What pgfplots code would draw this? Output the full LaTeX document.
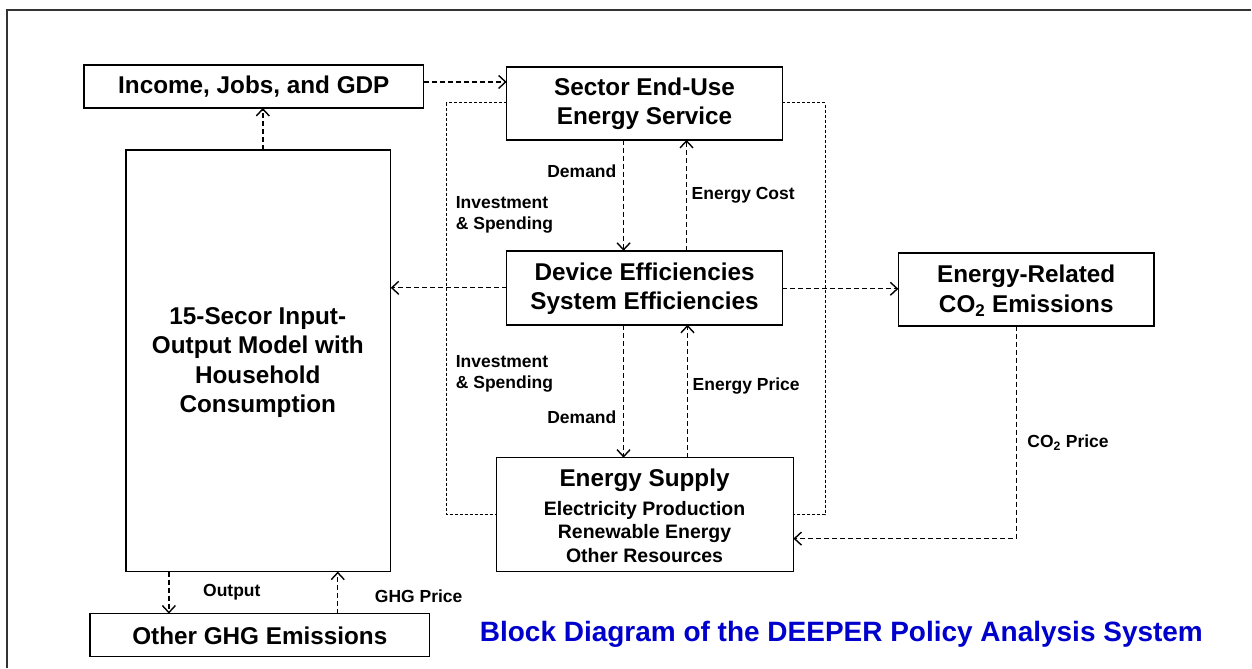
\documentclass[border=0pt]{standalone}
\usepackage{pgfplots}
\pgfplotsset{compat=1.18}
\usepackage{fontspec}
\setmainfont{Liberation Sans}
\usetikzlibrary{arrows.meta}
\definecolor{ttl}{RGB}{0,0,204}
\tikzset{
  box/.style={line width=1.5pt,black},
  darr/.style={black,line width=1.4pt,dash pattern=on 5pt off 3pt,-{Straight Barb[length=7pt,width=13pt]}},
  dotl/.style={black,line width=1.1pt,dash pattern=on 3pt off 2pt},
  big/.style={font=\fontsize{24.3}{29.5}\selectfont\bfseries,align=center,inner sep=0pt},
  lab/.style={font=\fontsize{17.5}{21}\selectfont\bfseries,align=left,inner sep=0pt}}
\begin{document}
\begin{tikzpicture}
\begin{axis}[x=1pt,y=1pt,xmin=0,xmax=1252,ymin=0,ymax=668,y dir=reverse,
  hide axis,clip=false]
\path (axis cs:0,0) rectangle (axis cs:1252,668);
% outer frame
\draw[line width=1.8pt,black!80] (axis cs:7,668) -- (axis cs:7,10) -- (axis cs:1252,10);
% boxes
\draw[box] (axis cs:84,65) rectangle (axis cs:424,108);
\draw[box] (axis cs:507,67) rectangle (axis cs:783,140);
\draw[box] (axis cs:126,150) rectangle (axis cs:391,572);
\draw[box] (axis cs:507,251) rectangle (axis cs:783,325);
\draw[box] (axis cs:899,253) rectangle (axis cs:1155,326);
\draw[box] (axis cs:497,458) rectangle (axis cs:794,572);
\draw[box] (axis cs:90,614) rectangle (axis cs:430,657);
% box texts
\node[big] at (axis cs:254,87) {Income, Jobs, and GDP};
\node[big] at (axis cs:645,104) {Sector End-Use\\Energy Service};
\node[big] at (axis cs:645,289) {Device Efficiencies\\System Efficiencies};
\node[big] at (axis cs:1027,291) {Energy-Related\\CO\textsubscript{2} Emissions};
\node[big] at (axis cs:258,363) {15-Secor Input-\\Output Model with\\Household\\Consumption};
\node[big] at (axis cs:260,636) {Other GHG Emissions};
\node[big] at (axis cs:645,481) {Energy Supply};
\node[font=\fontsize{19.5}{23.5}\selectfont\bfseries,align=center,inner sep=0pt] at (axis cs:645,532) {Electricity Production\\Renewable Energy\\Other Resources};
% dotted loops
\addplot[dotl,mark=none] coordinates {(507,103) (447,103) (447,515) (497,515)};
\addplot[dotl,mark=none] coordinates {(783,103) (826,103) (826,515) (794,515)};
% dashed arrows
\addplot[darr,mark=none] coordinates {(424,82) (507,82)};
\addplot[darr,mark=none] coordinates {(263,150) (263,108)};
\addplot[darr,mark=none] coordinates {(624,140) (624,251)};
\addplot[darr,mark=none] coordinates {(687,251) (687,140)};
\addplot[darr,mark=none] coordinates {(507,288) (391,288)};
\addplot[darr,mark=none] coordinates {(783,289) (899,289)};
\addplot[darr,mark=none] coordinates {(624,325) (624,458)};
\addplot[darr,mark=none] coordinates {(688,458) (688,325)};
\addplot[darr,mark=none] coordinates {(1017,326) (1017,539) (794,539)};
\addplot[darr,mark=none] coordinates {(169,572) (169,614)};
\addplot[darr,mark=none] coordinates {(338,614) (338,572)};
% labels
\node[lab,anchor=east] at (axis cs:617,171) {Demand};
\node[lab,anchor=west] at (axis cs:692,195) {Energy Cost};
\node[lab,anchor=west] at (axis cs:456,215) {Investment\\\& Spending};
\node[lab,anchor=west] at (axis cs:456,374) {Investment\\\& Spending};
\node[lab,anchor=east] at (axis cs:617,418) {Demand};
\node[lab,anchor=west] at (axis cs:693,386) {Energy Price};
\node[lab,anchor=west] at (axis cs:1028,443) {CO\textsubscript{2} Price};
\node[lab] at (axis cs:232,593) {Output};
\node[lab] at (axis cs:419,597) {GHG Price};
% title
\node[font=\fontsize{28}{32}\selectfont\bfseries,text=ttl,inner sep=0pt] at (axis cs:842,635) {Block Diagram of the DEEPER Policy Analysis System};
\end{axis}
\end{tikzpicture}
\end{document}
